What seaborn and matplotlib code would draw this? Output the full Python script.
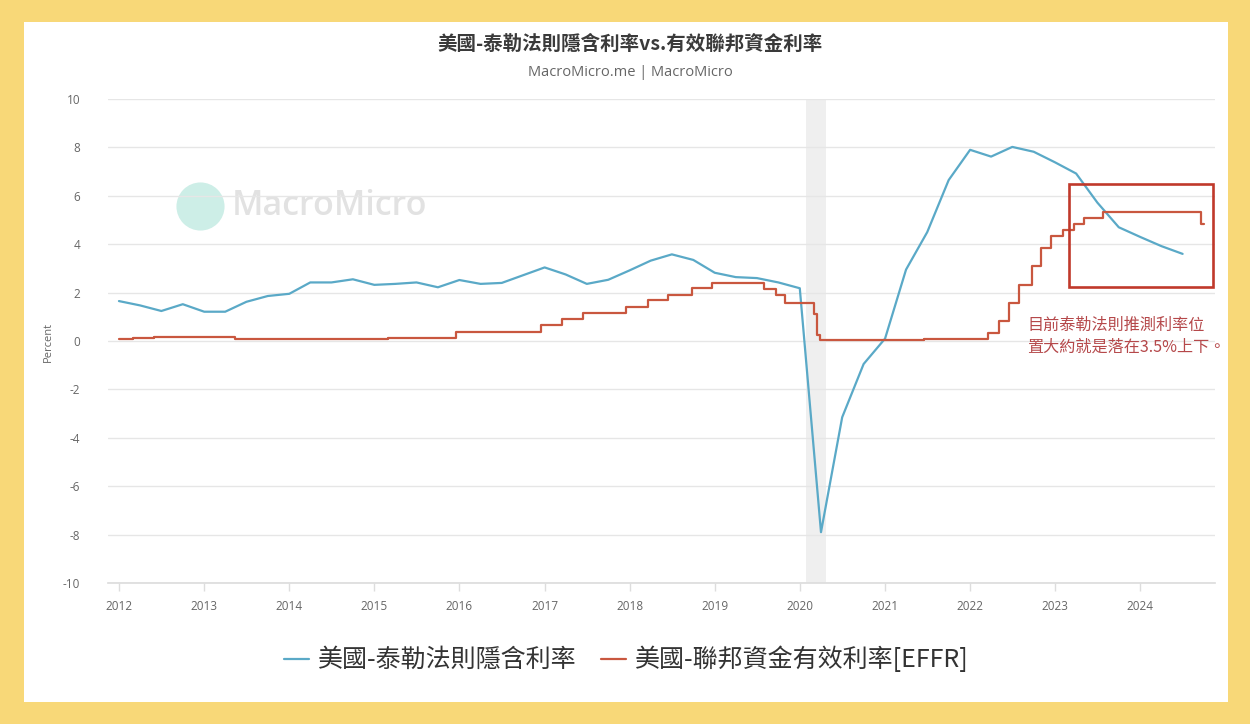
import matplotlib
matplotlib.use("Agg")
import matplotlib.pyplot as plt
import matplotlib.patches as patches
import matplotlib.dates as mdates
import pandas as pd
import seaborn as sns

# 泰勒法則隱含利率 (季資料)
taylor_dates = pd.date_range("2012-01-01", periods=51, freq="QS")
taylor_values = [
    1.65, 1.47, 1.24, 1.52, 1.21, 1.21, 1.62, 1.86, 1.95, 2.42,
    2.42, 2.55, 2.32, 2.36, 2.42, 2.22, 2.52, 2.36, 2.40, 2.72,
    3.04, 2.75, 2.36, 2.53, 2.92, 3.32, 3.58, 3.35, 2.82, 2.64,
    2.60, 2.42, 2.18, -7.90, -3.15, -0.95, 0.10, 2.95, 4.50, 6.65,
    7.90, 7.62, 8.02, 7.82, 7.38, 6.92, 5.72, 4.70, 4.30, 3.92,
    3.60,
]

# 有效聯邦資金利率 EFFR (變動日期與水準)
effr_dates = [
    "2012-01-01", "2012-03-01", "2012-06-01", "2013-01-01", "2013-05-15",
    "2014-01-01", "2015-03-01", "2015-12-17", "2016-12-15", "2017-03-16",
    "2017-06-15", "2017-12-14", "2018-03-22", "2018-06-14", "2018-09-27",
    "2018-12-20", "2019-08-01", "2019-09-19", "2019-10-31", "2020-03-04",
    "2020-03-16", "2020-03-26", "2021-06-17", "2022-03-17", "2022-05-05",
    "2022-06-16", "2022-07-28", "2022-09-22", "2022-11-03", "2022-12-15",
    "2023-02-02", "2023-03-23", "2023-05-04", "2023-07-27", "2024-09-19",
    "2024-09-30",
]
effr_values = [
    0.10, 0.14, 0.16, 0.15, 0.10,
    0.08, 0.12, 0.37, 0.66, 0.91,
    1.16, 1.42, 1.68, 1.91, 2.18,
    2.40, 2.13, 1.90, 1.55, 1.10,
    0.25, 0.06, 0.08, 0.33, 0.83,
    1.58, 2.33, 3.08, 3.83, 4.33,
    4.58, 4.83, 5.08, 5.33, 4.83,
    4.83,
]

title = "美國-泰勒法則隱含利率vs.有效聯邦資金利率"
subtitle = "MacroMicro.me | MacroMicro"
label_taylor = "美國-泰勒法則隱含利率"
label_effr = "美國-聯邦資金有效利率[EFFR]"
note = "目前泰勒法則推測利率位\n置大約就是落在3.5%上下。"

blue = "#5AA9C7"
red = "#C9573F"

sns.set_theme(style="white")
plt.rcParams["font.family"] = ["Noto Sans CJK TC", "DejaVu Sans"]
plt.rcParams["axes.unicode_minus"] = False

fig = plt.figure(figsize=(12.5, 7.24), dpi=100)
fig.patch.set_facecolor("#F8D878")
# 白色底板
fig.add_artist(patches.Rectangle(
    (24 / 1250, 22 / 724), 1204 / 1250, 680 / 724,
    transform=fig.transFigure, facecolor="white", edgecolor="none", zorder=0,
))

ax = fig.add_axes([108 / 1250, 1 - 583 / 724, 1107 / 1250, 484 / 724])
ax.set_facecolor("none")

# 浮水印
ax.scatter([0.083], [0.779], s=1200, color="#CDEEE7", transform=ax.transAxes,
           zorder=0, linewidths=0)
ax.text(0.112, 0.779, "MacroMicro", transform=ax.transAxes, fontsize=24.5,
        color="#E2E2E2", va="center", ha="left", family=["Open Sans", "DejaVu Sans"],
        fontweight="semibold", zorder=0)

ax.axvspan(pd.Timestamp("2020-01-28"), pd.Timestamp("2020-04-22"),
           color="#EFEFEF", zorder=0.5, linewidth=0)

df_taylor = pd.DataFrame({"date": taylor_dates, "value": taylor_values})
df_effr = pd.DataFrame({"date": pd.to_datetime(effr_dates), "value": effr_values})

sns.lineplot(data=df_taylor, x="date", y="value", ax=ax, color=blue,
             linewidth=1.6, label=label_taylor, zorder=3)
sns.lineplot(data=df_effr, x="date", y="value", ax=ax, color=red,
             linewidth=1.6, label=label_effr, drawstyle="steps-post", zorder=3)

ax.set_ylim(-10, 10)
ax.set_yticks(range(-10, 11, 2))
ax.set_xlim(pd.Timestamp("2011-11-15"), pd.Timestamp("2024-11-17"))
ax.xaxis.set_major_locator(mdates.YearLocator())
ax.xaxis.set_major_formatter(mdates.DateFormatter("%Y"))

ax.grid(axis="y", color="#E6E6E6", linewidth=1)
for side in ["top", "right", "left"]:
    ax.spines[side].set_visible(False)
ax.spines["bottom"].set_color("#DDDDDD")
ax.tick_params(axis="x", bottom=True, length=6, width=1, color="#DDDDDD",
               labelsize=8.5, labelcolor="#666666", pad=6)
ax.tick_params(axis="y", left=False, labelsize=8.5, labelcolor="#666666", pad=14)
for lab in ax.get_xticklabels() + ax.get_yticklabels():
    lab.set_family(["Open Sans", "DejaVu Sans"])
ax.set_xlabel("")
ax.set_ylabel("")

fig.text(48 / 1250, 1 - 342 / 724, "Percent", rotation=90, ha="center",
         va="center", fontsize=8, color="#666666",
         family=["Open Sans", "DejaVu Sans"])

# 紅框標註
ax.add_patch(patches.Rectangle(
    (mdates.date2num(pd.Timestamp("2023-03-01")), 2.25),
    mdates.date2num(pd.Timestamp("2024-11-10")) - mdates.date2num(pd.Timestamp("2023-03-01")),
    6.47 - 2.25, fill=False, edgecolor="#C0392B", linewidth=1.9, zorder=4,
))
fig.text(1027 / 1250, 1 - 317 / 724, note, ha="left", va="top", fontsize=11.6,
         color="#B5484A", linespacing=1.35)

fig.text(0.504, 1 - 44 / 724, title, ha="center", va="center", fontsize=14,
         fontweight="bold", color="#3A3A3A")
fig.text(0.504, 1 - 72 / 724, subtitle, ha="center", va="center", fontsize=10.5,
         color="#666666", family=["Open Sans", "DejaVu Sans"])

handles, labels = ax.get_legend_handles_labels()
ax.get_legend().remove()
fig.legend(handles, labels, loc="center", bbox_to_anchor=(0.501, 1 - 660 / 724),
           ncol=2, frameon=False, handlelength=1.0,
           handletextpad=0.35, columnspacing=1.0, labelcolor="#333333",
           prop={"size": 18, "weight": "medium"})

fig.savefig("out.png", dpi=100, facecolor=fig.get_facecolor())
